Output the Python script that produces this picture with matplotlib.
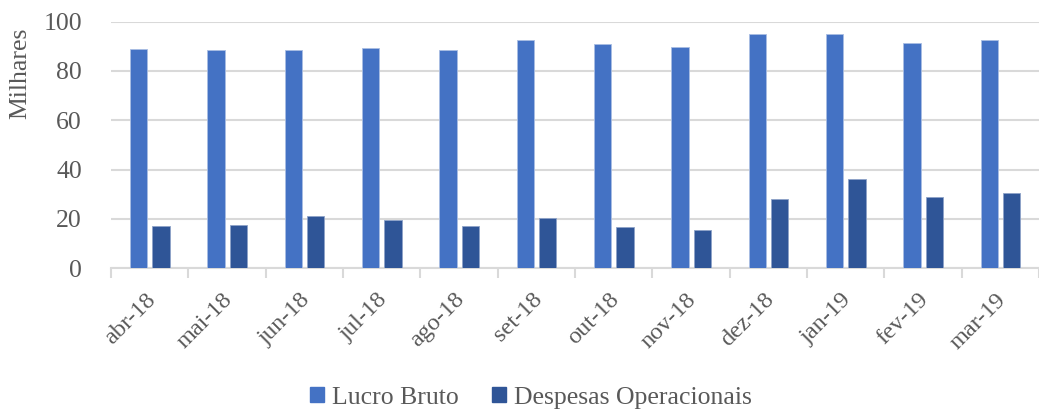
import numpy as np
import matplotlib
matplotlib.use('Agg')
import matplotlib.pyplot as plt
import matplotlib.transforms as mtransforms
from matplotlib.patches import Patch

# --- data (values in milhares) ---
meses = ['abr-18', 'mai-18', 'jun-18', 'jul-18', 'ago-18', 'set-18',
         'out-18', 'nov-18', 'dez-18', 'jan-19', 'fev-19', 'mar-19']
lucro_bruto = [88.7, 88.4, 88.6, 89.3, 88.6, 92.4, 90.9, 89.5, 95.1, 95.1, 91.4, 92.6]
despesas_op = [17.1, 17.5, 21.2, 19.6, 17.0, 20.3, 16.6, 15.4, 28.0, 36.3, 28.8, 30.4]
y_ticks = [0, 20, 40, 60, 80, 100]

# --- style ---
plt.rcParams['font.family'] = ['Liberation Serif', 'DejaVu Serif']
txt = '#595959'
grid = '#D9D9D9'
c_lucro = '#4472C4'
c_desp = '#2F5597'
fs = 18.5

fig = plt.figure(figsize=(10.39, 4.12), dpi=100)
ax = fig.add_axes([0.1068, 0.3488, 0.8932, 0.599])

x = np.arange(len(meses))
w = 0.225
ax.bar(x - 0.142, lucro_bruto, w, color=c_lucro, edgecolor='#A9BDE3', linewidth=0.6, zorder=3)
ax.bar(x + 0.146, despesas_op, w, color=c_desp, edgecolor='#8EA3C8', linewidth=0.6, zorder=3)

ax.set_ylim(0, 100)
ax.set_xlim(-0.5, 11.35)
ax.set_yticks(y_ticks)
ax.tick_params(axis='y', length=0, labelsize=fs, labelcolor=txt, pad=21)
ax.yaxis.grid(True, color=grid, linewidth=1.5, zorder=0)

# rotated month labels, nudged a bit left like the original
ax.set_xticks(x)
ax.set_xticklabels(meses, rotation=45, ha='right', rotation_mode='anchor')
ax.tick_params(axis='x', which='major', length=0, labelsize=17.5, labelcolor=txt, pad=15)
shift = mtransforms.ScaledTranslation(-5 / 100, 0, fig.dpi_scale_trans)
for lbl in ax.get_xticklabels():
    lbl.set_transform(lbl.get_transform() + shift)
ax.set_xticks(np.arange(-0.5, 12, 1), minor=True)
ax.tick_params(axis='x', which='minor', length=7, width=1.5, color=grid)

for s in ['top', 'right', 'left']:
    ax.spines[s].set_visible(False)
ax.spines['bottom'].set_color(grid)
ax.spines['bottom'].set_linewidth(1.5)

ax.set_ylabel('Milhares', fontsize=fs, color=txt)
ax.yaxis.set_label_coords(-0.086, 0.79)

handles = [Patch(color=c_lucro, label='Lucro Bruto'),
           Patch(color=c_desp, label='Despesas Operacionais')]
fig.legend(handles=handles, loc='center', bbox_to_anchor=(0.511, 0.035), ncol=2,
           frameon=False, fontsize=fs, labelcolor=txt, handlelength=0.55,
           handleheight=0.55, handletextpad=0.3, columnspacing=1.3)

fig.savefig('out.png', dpi=100, facecolor='white')
